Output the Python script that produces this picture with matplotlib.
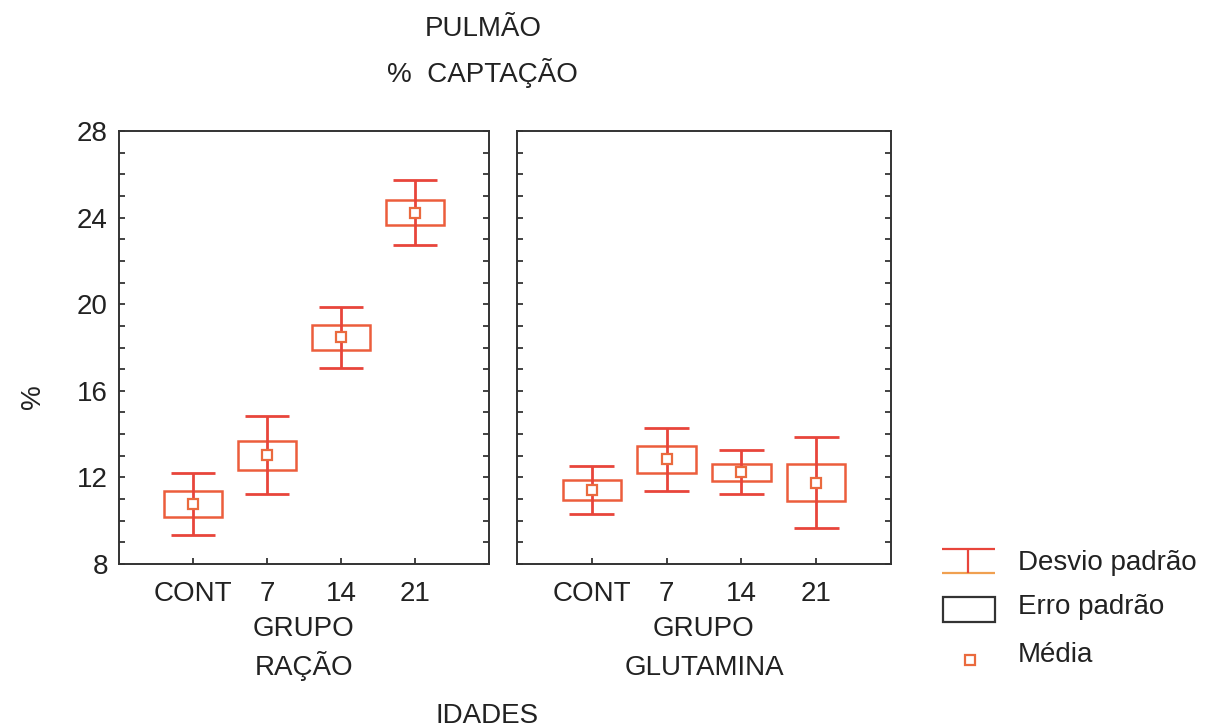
import matplotlib.pyplot as plt
import numpy as np
from matplotlib.patches import Rectangle
from matplotlib.ticker import MultipleLocator

plt.rcParams['font.family'] = ['Liberation Sans', 'DejaVu Sans']

idades = ['CONT', '7', '14', '21']

# grupo ração
racao_media = [10.77, 13.03, 18.48, 24.23]
racao_ep = [0.60, 0.67, 0.58, 0.59]
racao_dp = [1.42, 1.80, 1.41, 1.51]

# grupo glutamina
glut_media = [11.41, 12.83, 12.24, 11.75]
glut_ep = [0.46, 0.61, 0.40, 0.86]
glut_dp = [1.11, 1.47, 1.01, 2.10]

c_dp = '#e8453b'
c_ep = '#ec5d3c'
c_med = '#ea6a3e'
tc = '#222222'
fs = 20

fig = plt.figure(figsize=(12.13, 7.28), dpi=100)
ax1 = fig.add_axes([119/1213, 164/728, 370/1213, 433/728])
ax2 = fig.add_axes([517/1213, 164/728, 374/1213, 433/728])


def painel(ax, media, ep, dp):
    x = np.arange(1, len(media) + 1)
    for xi, m, e, d in zip(x, media, ep, dp):
        ax.vlines(xi, m - d, m + d, color=c_dp, lw=2)
        ax.hlines([m - d, m + d], xi - 0.3, xi + 0.3, color=c_dp, lw=2)
        ax.add_patch(Rectangle((xi - 0.39, m - e), 0.78, 2 * e, fill=False,
                               edgecolor=c_ep, lw=1.8))
    ax.plot(x, media, 's', ms=7, mfc='white', mec=c_med, mew=1.6, ls='none')
    ax.set_xlim(0, 5)
    ax.set_ylim(8, 28)
    ax.set_xticks(x)
    ax.set_xticklabels(idades, fontsize=fs)
    ax.yaxis.set_major_locator(MultipleLocator(4))
    ax.yaxis.set_minor_locator(MultipleLocator(1))
    ax.tick_params(axis='both', which='both', direction='in', length=4,
                   width=1.2, right=True, colors=tc)
    ax.tick_params(axis='x', pad=12)
    ax.tick_params(axis='y', labelsize=fs, pad=8)
    for s in ax.spines.values():
        s.set_linewidth(1.4)
        s.set_color('#333333')


painel(ax1, racao_media, racao_ep, racao_dp)
painel(ax2, glut_media, glut_ep, glut_dp)
ax2.set_yticklabels([])

ax1.set_ylabel('%', fontsize=fs, color=tc)
ax1.yaxis.set_label_coords(-0.197, 0.386)

# rótulos dos grupos, uma linha de cada vez
for xc, nome in [(304, 'RAÇÃO'), (704, 'GLUTAMINA')]:
    fig.text(xc/1213, 1 - 636/728, 'GRUPO', ha='center', va='baseline',
             fontsize=fs, color=tc)
    fig.text(xc/1213, 1 - 675/728, nome, ha='center', va='baseline',
             fontsize=fs, color=tc)

fig.text(483/1213, 1 - 29/728, 'PULMÃO', ha='center', va='center', fontsize=fs, color=tc)
fig.text(482/1213, 1 - 73/728, '%  CAPTAÇÃO', ha='center', va='center', fontsize=fs, color=tc)
fig.text(487/1213, 1 - 723/728, 'IDADES', ha='center', va='baseline', fontsize=fs, color=tc)

# legenda
lg = fig.add_axes([930/1213, 50/728, 283/1213, 150/728])
lg.set_xlim(0, 283)
lg.set_ylim(150, 0)
lg.axis('off')
lg.hlines(21, 12, 65, color=c_dp, lw=1.6)
lg.hlines(45, 12, 65, color='#f0a050', lw=1.6)
lg.vlines(38, 21, 45, color=c_dp, lw=1.6)
lg.add_patch(Rectangle((13, 69), 52, 25, fill=False, edgecolor='#333333', lw=1.6))
lg.plot([40], [132], 's', ms=7, mfc='white', mec=c_med, mew=1.6)
lg.text(88, 35, 'Desvio padrão', fontsize=fs, va='center', color=tc)
lg.text(88, 79, 'Erro padrão', fontsize=fs, va='center', color=tc)
lg.text(88, 127, 'Média', fontsize=fs, va='center', color=tc)

fig.savefig('out.png', dpi=100)
